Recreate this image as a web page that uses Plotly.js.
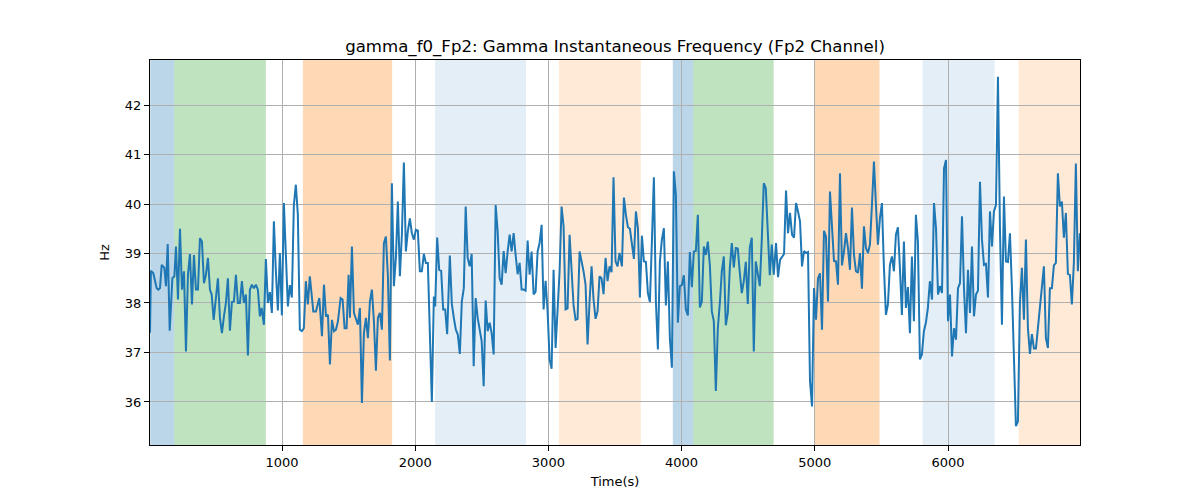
<!DOCTYPE html>
<html>
<head>
<meta charset="utf-8">
<script src="https://cdn.plot.ly/plotly-3.0.1.min.js"></script>
<style>
  body { margin: 0; background: #fff; }
  #chart { width: 1200px; height: 500px; }
</style>
</head>
<body>
<div id="chart"></div>
<script>
// time in seconds
var timeSec = [
  9, 16, 34, 59, 72, 84, 97, 117, 129, 142, 157, 177, 192, 204, 219, 234, 249, 264, 279, 294,
  309, 324, 339, 354, 369, 384, 399, 414, 429, 444, 459, 472, 487, 504, 519, 534, 549, 564, 579, 594,
  609, 624, 639, 654, 669, 684, 699, 714, 729, 744, 759, 774, 789, 804, 819, 834, 847, 864, 879, 894,
  909, 924, 939, 954, 969, 984, 999, 1014, 1029, 1044, 1059, 1074, 1089, 1104, 1119, 1134, 1149, 1164, 1179, 1194,
  1209, 1235, 1255, 1280, 1300, 1315, 1330, 1345, 1360, 1375, 1390, 1405, 1420, 1440, 1455, 1470, 1485, 1500, 1510, 1525,
  1540, 1555, 1570, 1585, 1600, 1615, 1630, 1645, 1660, 1675, 1690, 1705, 1720, 1735, 1750, 1765, 1780, 1795, 1810, 1825,
  1840, 1855, 1870, 1885, 1900, 1915, 1930, 1945, 1960, 1975, 1990, 2005, 2020, 2035, 2050, 2065, 2080, 2095, 2110, 2125,
  2140, 2150, 2165, 2180, 2195, 2210, 2225, 2240, 2260, 2275, 2290, 2305, 2320, 2335, 2350, 2365,
  2379, 2394, 2409, 2424, 2439, 2454, 2469, 2484, 2499, 2514, 2529, 2544, 2559, 2574, 2589, 2604, 2619, 2634, 2649, 2664,
  2679, 2694, 2709, 2724, 2739, 2754, 2769, 2784, 2799, 2814, 2829, 2844, 2859, 2874, 2889, 2904, 2919, 2934, 2949, 2964,
  2979, 2994, 3009, 3024, 3039, 3054, 3069, 3084, 3099, 3114, 3129, 3144, 3159, 3174, 3189, 3204, 3219, 3234, 3249, 3264,
  3279, 3294, 3309, 3324, 3339, 3354, 3369, 3384, 3399, 3414, 3429, 3444, 3459, 3474, 3489, 3504, 3519, 3534,
  3552, 3567, 3582, 3597, 3612, 3627, 3642, 3657, 3672, 3687, 3702, 3717, 3732, 3747, 3762, 3777, 3792, 3807, 3822, 3837,
  3852, 3867, 3882, 3897, 3912, 3927, 3942, 3957, 3972, 3987, 4002, 4017, 4032, 4047, 4062, 4077, 4092, 4107, 4122, 4137,
  4152, 4167, 4182, 4197, 4212, 4227, 4242, 4257, 4272, 4287, 4302, 4317, 4332, 4347, 4362, 4377, 4392, 4407, 4422, 4437,
  4452, 4467, 4482, 4497, 4512, 4527, 4542, 4557, 4572, 4587, 4602, 4617, 4632, 4647, 4662, 4677, 4692,
  4709, 4724, 4739, 4754, 4769, 4784, 4799, 4814, 4829, 4844, 4859, 4874, 4889, 4904, 4919, 4934, 4949, 4964, 4979, 4994,
  5009, 5024, 5039, 5054, 5069, 5084, 5099, 5114, 5129, 5144, 5159, 5174, 5189, 5204, 5219, 5234, 5249, 5264, 5279, 5294,
  5309, 5324, 5339, 5354, 5369, 5384, 5399, 5414, 5429, 5444, 5459, 5474, 5489, 5504, 5519, 5534, 5549, 5564, 5579, 5594,
  5609, 5624, 5639, 5654, 5669, 5684, 5699, 5714, 5729, 5744, 5759, 5774, 5789, 5804, 5819, 5834, 5849, 5864,
  5880, 5895, 5910, 5925, 5940, 5955, 5970, 5985, 6000, 6015, 6030, 6045, 6060, 6075, 6090, 6105, 6120, 6135, 6150, 6165,
  6180, 6195, 6210, 6225, 6240, 6255, 6270, 6285, 6300, 6315, 6330, 6345, 6360, 6375, 6390, 6405, 6420, 6435, 6450, 6465,
  6480, 6495, 6510, 6525, 6540, 6555, 6570, 6585, 6600, 6615, 6630, 6645, 6660, 6675, 6690, 6705, 6720, 6735, 6750, 6765,
  6780, 6795, 6810, 6825, 6840, 6855, 6870, 6885, 6900, 6915, 6930, 6945, 6960, 6975, 6990
];

// gamma instantaneous frequency, Fp2 channel (Hz)
var freqHz = [
  37.40, 38.65, 38.60, 38.30, 38.27, 38.30, 38.77, 38.71, 38.34, 39.19, 37.44, 38.50, 38.54, 39.14, 38.07, 39.50, 38.27, 38.64, 37.02, 38.57,
  38.99, 37.97, 38.97, 38.27, 38.27, 39.31, 39.24, 38.40, 38.57, 38.91, 38.27, 38.17, 37.66, 38.17, 38.50, 37.70, 37.39, 37.73, 38.00, 38.50,
  37.44, 38.02, 38.03, 38.57, 38.00, 38.00, 38.44, 38.00, 38.17, 36.94, 38.27, 38.37, 38.30, 38.37, 38.27, 37.73, 37.90, 37.56, 38.89, 38.00,
  38.22, 37.80, 39.65, 38.64, 37.85, 39.01, 37.75, 40.02, 38.94, 37.93, 38.36, 38.11, 39.98, 40.39, 39.78, 37.46, 37.43, 37.49, 38.44, 37.97,
  38.54, 37.83, 37.83, 38.10, 37.33, 38.37, 37.73, 37.76, 36.76, 37.66, 37.43, 37.46, 37.63, 38.10, 38.07, 37.49, 37.49, 38.57, 37.70, 39.14,
  37.80, 37.66, 37.56, 37.90, 35.98, 37.39, 37.70, 37.29, 38.03, 38.27, 37.63, 36.63, 37.70, 37.80, 37.46, 39.21, 39.34, 38.54, 36.84, 40.42,
  38.34, 38.91, 40.05, 38.54, 39.38, 40.84, 39.04, 39.45, 39.71, 39.41, 39.28, 39.48, 39.46, 38.64, 38.64, 38.99, 38.81, 38.81, 37.09, 36.00,
  38.13, 37.93, 39.32, 38.67, 38.65, 37.87, 37.87, 37.37, 38.96, 37.98, 37.70, 37.46, 37.36, 36.97, 38.03, 38.30,
  39.95, 38.91, 38.74, 38.99, 36.72, 38.10, 37.70, 37.49, 37.23, 36.32, 38.05, 37.43, 37.60, 37.39, 36.96, 39.98, 39.45, 38.50, 38.37, 39.05,
  38.60, 39.04, 39.38, 39.04, 39.41, 38.97, 38.58, 38.81, 38.27, 38.27, 38.25, 39.26, 38.57, 39.04, 38.17, 38.23, 39.04, 39.21, 39.58, 37.87,
  38.45, 37.83, 36.86, 36.67, 38.67, 37.09, 38.03, 38.64, 39.95, 39.55, 37.87, 37.89, 39.38, 38.71, 37.95, 37.66, 37.68, 39.04, 38.85, 38.64,
  38.37, 37.16, 38.03, 38.74, 38.07, 37.68, 37.83, 38.54, 38.50, 38.18, 38.91, 38.44, 38.74, 38.62, 40.54, 38.84, 38.74, 39.01,
  38.74, 40.13, 39.78, 39.53, 39.50, 39.18, 38.89, 39.85, 39.51, 38.11, 39.36, 38.84, 38.83, 38.20, 38.02, 39.24, 40.54, 38.03, 37.06, 38.84,
  39.28, 39.51, 37.95, 38.84, 37.29, 36.69, 40.66, 40.19, 37.60, 38.34, 38.36, 38.56, 37.87, 37.75, 39.03, 38.32, 39.04, 39.05, 39.78, 37.91,
  38.03, 39.14, 38.97, 39.24, 38.77, 37.83, 37.63, 36.22, 37.49, 38.00, 38.64, 38.94, 37.55, 37.80, 38.71, 39.21, 38.72, 39.11, 39.10, 38.61,
  38.20, 38.44, 38.83, 37.98, 39.12, 39.32, 37.02, 38.84, 38.54, 38.34, 39.28, 40.42, 40.32, 39.24, 38.56, 39.18, 38.57,
  39.21, 38.52, 38.87, 38.94, 38.99, 40.27, 39.41, 39.82, 39.38, 39.32, 40.02, 39.85, 39.65, 38.74, 39.05, 39.01, 39.03, 36.42, 35.91, 38.30,
  37.66, 38.50, 38.60, 37.46, 39.46, 39.34, 38.03, 40.25, 39.58, 38.85, 38.84, 38.37, 40.62, 38.76, 39.04, 39.41, 39.11, 38.67, 39.93, 38.97,
  38.64, 38.61, 39.01, 38.29, 39.55, 39.11, 39.01, 39.18, 39.98, 40.86, 39.98, 39.18, 39.71, 40.02, 38.71, 37.76, 37.97, 38.77, 38.94, 38.64,
  39.38, 39.53, 38.71, 37.76, 39.24, 37.90, 38.32, 37.39, 38.94, 37.63, 39.78, 39.24, 36.86, 36.96, 37.43, 37.60, 37.90, 38.44,
  38.07, 40.02, 39.51, 38.17, 38.34, 38.20, 40.72, 40.89, 37.63, 38.17, 36.92, 37.49, 37.26, 38.30, 38.40, 39.75, 38.30, 37.39, 38.67, 37.80,
  39.14, 37.73, 38.17, 38.25, 40.45, 39.28, 38.77, 38.79, 38.11, 39.85, 39.14, 39.85, 39.98, 42.57, 39.51, 37.56, 40.15, 38.84, 38.83, 39.41,
  38.30, 36.92, 35.51, 35.61, 38.00, 38.71, 37.66, 39.28, 37.49, 36.97, 37.37, 37.08, 37.08, 37.49, 37.93, 38.30, 38.74, 37.29, 37.09, 38.30,
  38.30, 38.76, 38.81, 40.62, 39.95, 40.05, 39.32, 39.82, 38.59, 38.57, 37.97, 38.81, 40.82, 38.64, 39.41
];

// shaded segments (start, end in seconds) and their kind
var bandStart = [11, 191, 1157, 2149, 3079, 3934, 4087, 5000, 5810, 6530];
var bandEnd   = [191, 879, 1827, 2832, 3694, 4087, 4691, 5486, 6350, 6991];
var bandKind  = ['blue', 'green', 'orange', 'lightblue', 'lightorange',
                 'blue', 'green', 'orange', 'lightblue', 'lightorange'];

var bandColor = {
  blue: 'rgba(31,119,180,0.3)',
  green: 'rgba(44,160,44,0.3)',
  orange: 'rgba(255,127,14,0.3)',
  lightblue: 'rgba(31,119,180,0.12)',
  lightorange: 'rgba(255,127,14,0.16)'
};

var shapes = [];
for (var i = 0; i < bandStart.length; i++) {
  shapes.push({
    type: 'rect',
    xref: 'x', yref: 'paper',
    x0: bandStart[i], x1: bandEnd[i],
    y0: 0, y1: 1,
    fillcolor: bandColor[bandKind[i]],
    line: {width: 0},
    layer: 'below'
  });
}

var axisFont = {family: 'DejaVu Sans', size: 13, color: '#000'};

var layout = {
  width: 1200,
  height: 500,
  paper_bgcolor: '#fff',
  plot_bgcolor: '#fff',
  showlegend: false,
  font: {family: 'DejaVu Sans', color: '#000'},
  title: {
    text: 'gamma_f0_Fp2: Gamma Instantaneous Frequency (Fp2 Channel)',
    font: {family: 'DejaVu Sans', size: 16.6, color: '#000'},
    xref: 'paper',
    x: 0.5,
    yref: 'container',
    y: 0.908,
    yanchor: 'middle'
  },
  xaxis: {
    title: {
      text: 'Time(s)',
      font: axisFont,
      standoff: 8
    },
    range: [9, 6991],
    tickvals: [1000, 2000, 3000, 4000, 5000, 6000],
    ticks: 'outside',
    ticklen: 5,
    tickcolor: '#000',
    tickfont: axisFont,
    showline: true,
    linecolor: '#000',
    linewidth: 1,
    mirror: true,
    showgrid: true,
    gridcolor: '#b0b0b0',
    gridwidth: 1,
    zeroline: false
  },
  yaxis: {
    title: {
      text: 'Hz',
      font: axisFont,
      standoff: 12
    },
    range: [35.13, 42.91],
    tickvals: [36, 37, 38, 39, 40, 41, 42],
    ticks: 'outside',
    ticklen: 5,
    tickcolor: '#000',
    tickfont: axisFont,
    showline: true,
    linecolor: '#000',
    linewidth: 1,
    mirror: true,
    showgrid: true,
    gridcolor: '#b0b0b0',
    gridwidth: 1,
    zeroline: false
  },
  margin: {
    l: 150,
    r: 120,
    t: 60,
    b: 55
  },
  shapes: shapes
};

var config = {responsive: false, displayModeBar: false, staticPlot: true};

Plotly.newPlot('chart', [{
  x: timeSec,
  y: freqHz,
  type: 'scatter',
  mode: 'lines',
  line: {color: '#1f77b4', width: 2}
}], layout, config);
</script>
</body>
</html>
